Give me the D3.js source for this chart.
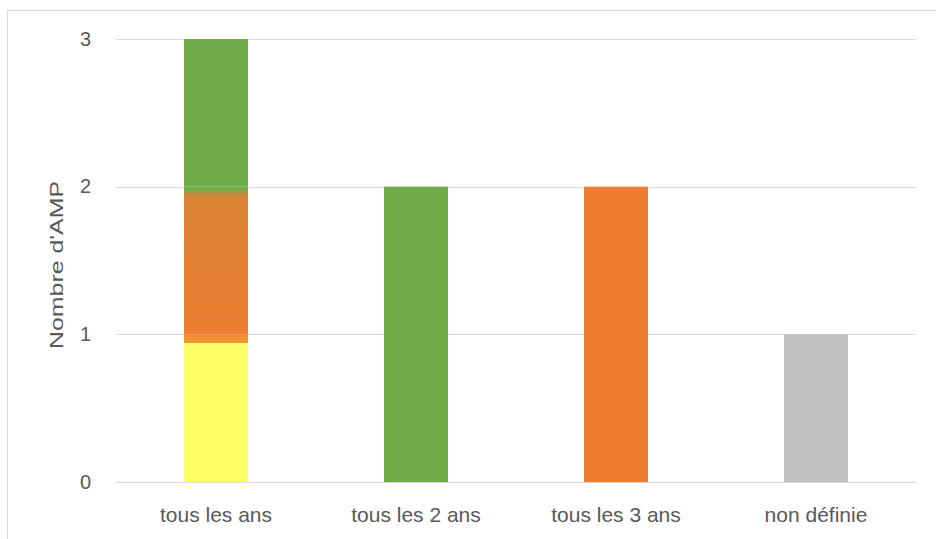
<!DOCTYPE html>
<html><head><meta charset="utf-8">
<script src="https://cdn.jsdelivr.net/npm/d3@7"></script>
<style>html,body{margin:0;padding:0;background:#fff;}svg{display:block;}</style>
</head><body>
<svg id="chart" width="936" height="539"></svg>
<script>
const categories = ["tous les ans", "tous les 2 ans", "tous les 3 ans", "non définie"];
const yellowVals = [1, 0, 0, 0];
const orangeVals = [1, 0, 2, 0];
const greenVals  = [1, 2, 0, 0];
const grayVals   = [0, 0, 0, 1];
const yTicks = [0, 1, 2, 3];
const yTitle = "Nombre d'AMP";

const svg = d3.select("#chart");
const font = "Liberation Sans, Arial, sans-serif";
const textColor = "#595959";

// outer border
svg.append("rect").attr("x", 7.5).attr("y", 10.5).attr("width", 940).attr("height", 540)
  .attr("fill", "none").attr("stroke", "#D9D9D9").attr("stroke-width", 1);

const x = d3.scaleBand().domain(categories).range([116, 916]).paddingInner(0.68).paddingOuter(0.34);
const y = d3.scaleLinear().domain([0, 3]).range([482, 39]);

const defs = svg.append("defs");
function grad(id, stops) {
  const g = defs.append("linearGradient").attr("id", id).attr("x1", 0).attr("y1", 1).attr("x2", 0).attr("y2", 0);
  stops.forEach(s => g.append("stop").attr("offset", s[0]).attr("stop-color", s[1]));
}
grad("gY", [[0, "#FFFF66"], [0.94, "#FFFF66"], [0.94, "#F29A38"], [1, "#F08A33"]]);
grad("gO", [[0, "#ED7D31"], [0.94, "#DC8535"], [0.94, "#BD8B3D"], [0.972, "#B58E40"], [0.972, "#70AD47"], [1, "#70AD47"]]);

// gridlines
svg.append("g").selectAll("line").data(yTicks).join("line")
  .attr("x1", 116).attr("x2", 916)
  .attr("y1", d => Math.round(y(d)) + 0.5).attr("y2", d => Math.round(y(d)) + 0.5)
  .attr("stroke", "#D9D9D9").attr("stroke-width", 1.2);

// stacking
const table = categories.map((c, i) => ({cat: c, yellow: yellowVals[i], orange: orangeVals[i], green: greenVals[i], gray: grayVals[i]}));
const keys = ["yellow", "orange", "green", "gray"];
const colors = {yellow: "#FFFF66", orange: "#ED7D31", green: "#70AD47", gray: "#BFBFBF"};
const stack = d3.stack().keys(keys)(table);

svg.append("g").selectAll("g").data(stack).join("g")
  .selectAll("rect").data(s => s.map(d => ({d, key: s.key}))).join("rect")
  .filter(o => o.d[1] - o.d[0] > 0)
  .attr("x", o => x(o.d.data.cat))
  .attr("width", x.bandwidth())
  .attr("y", o => y(o.d[1]))
  .attr("height", o => y(o.d[0]) - y(o.d[1]))
  .attr("fill", o => {
    const multi = keys.filter(k => o.d.data[k] > 0).length > 1;
    if (multi && o.key === "yellow") return "url(#gY)";
    if (multi && o.key === "orange") return "url(#gO)";
    return colors[o.key];
  });

// baseline
svg.append("line").attr("x1", 116).attr("x2", 916).attr("y1", Math.round(y(0)) + 0.5).attr("y2", Math.round(y(0)) + 0.5)
  .attr("stroke", "#D9D9D9").attr("stroke-width", 1.2);

// y labels
svg.append("g").selectAll("text").data(yTicks).join("text")
  .attr("x", 91).attr("y", d => y(d)).attr("dy", "0.33em")
  .attr("text-anchor", "end").attr("font-family", font).attr("font-size", 20).attr("fill", textColor)
  .text(d => d);

// x labels
svg.append("g").selectAll("text").data(categories).join("text")
  .attr("x", d => x(d) + x.bandwidth() / 2).attr("y", 522)
  .attr("text-anchor", "middle").attr("font-family", font).attr("font-size", 21).attr("fill", textColor)
  .text(d => d);

// y title
svg.append("text").attr("transform", "translate(63,265) rotate(-90)")
  .attr("text-anchor", "middle").attr("font-family", font).attr("font-size", 19).attr("fill", textColor)
  .attr("textLength", 168).attr("lengthAdjust", "spacingAndGlyphs")
  .text(yTitle);
</script>
</body></html>
